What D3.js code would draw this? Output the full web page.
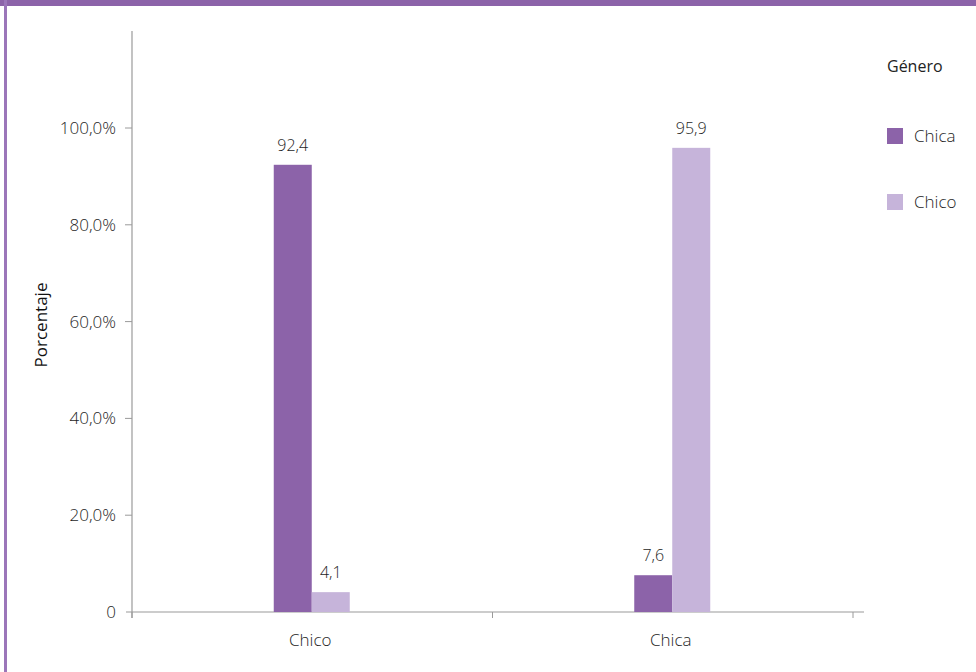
<!DOCTYPE html>
<html><head><meta charset="utf-8">
<script src="https://cdn.jsdelivr.net/npm/d3@7/dist/d3.min.js"></script>
<style>
body{margin:0;background:#fff;}
svg{display:block;font-family:"Open Sans",Lato,sans-serif;font-weight:300;}
</style></head>
<body><svg id="c" width="976" height="672"></svg>
<script>
const categories = ["Chico", "Chica"];
const seriesNames = ["Chica", "Chico"];
const chicaValues = [92.4, 7.6];
const chicoValues = [4.1, 95.9];
const valueLabels = [["92,4", "4,1"], ["7,6", "95,9"]];
const yTicks = [0, 20, 40, 60, 80, 100];
const yTickLabels = ["0", "20,0%", "40,0%", "60,0%", "80,0%", "100,0%"];
const colors = ["#8c63a9", "#c6b4da"];

const svg = d3.select("#c");
svg.append("rect").attr("x",0).attr("y",0).attr("width",976).attr("height",6).attr("fill","#8c63a9");
svg.append("rect").attr("x",4).attr("y",0).attr("width",3).attr("height",672).attr("fill","#9b76b9");

const x0 = 132, x1 = 853, yBase = 612, yTop = 128;
const x = d3.scaleBand().domain(categories).range([x0, x1]);
const y = d3.scaleLinear().domain([0, 100]).range([yBase, yTop]);
const barW = 38;
const txt = "#1e1e1e";

const g = svg.append("g");
g.append("line").attr("x1",x0).attr("x2",x0).attr("y1",31).attr("y2",618).attr("stroke","#9a9a9a").attr("stroke-width",1.2);
g.append("line").attr("x1",126).attr("x2",864).attr("y1",yBase).attr("y2",yBase).attr("stroke","#9a9a9a").attr("stroke-width",1.2);
yTicks.forEach((t,i)=>{
  if(i>0) g.append("line").attr("x1",125).attr("x2",x0).attr("y1",y(t)).attr("y2",y(t)).attr("stroke","#9a9a9a");
  g.append("text").attr("x",116).attr("y",y(t)).attr("dy","0.35em").attr("text-anchor","end")
   .attr("font-size",17).attr("fill",txt).text(yTickLabels[i]);
});
[x0, x0 + x.bandwidth(), x1].forEach(v=>{
  g.append("line").attr("x1",v).attr("x2",v).attr("y1",yBase).attr("y2",618).attr("stroke","#9a9a9a");
});
categories.forEach(c=>{
  g.append("text").attr("x",x(c)+x.bandwidth()/2-2).attr("y",646).attr("text-anchor","middle")
   .attr("font-size",17).attr("fill",txt).text(c);
});

const series = [chicaValues, chicoValues];
categories.forEach((c,ci)=>{
  const cx = x(c)+x.bandwidth()/2-0.5;
  series.forEach((vals,si)=>{
    const bx = cx - barW + si*barW;
    const v = vals[ci];
    svg.append("rect").attr("x",bx).attr("y",y(v)).attr("width",barW).attr("height",yBase-y(v)).attr("fill",colors[si]);
    svg.append("text").attr("x",bx+barW/2).attr("y",y(v)-14).attr("text-anchor","middle")
      .attr("font-size",16).attr("fill",txt).text(valueLabels[ci][si]);
  });
});

svg.append("text").attr("transform","translate(47,325) rotate(-90)").attr("text-anchor","middle")
  .attr("font-size",17).attr("font-weight",400).attr("fill","#111").text("Porcentaje");

svg.append("text").attr("x",887).attr("y",72).attr("font-size",16).attr("font-weight",400).attr("fill","#222").text("Género");
seriesNames.forEach((s,i)=>{
  const ly = 128 + i*66;
  svg.append("rect").attr("x",887).attr("y",ly).attr("width",16).attr("height",16).attr("fill",colors[i]);
  svg.append("text").attr("x",914).attr("y",ly+14).attr("font-size",17).attr("fill",txt).text(s);
});
</script></body></html>
